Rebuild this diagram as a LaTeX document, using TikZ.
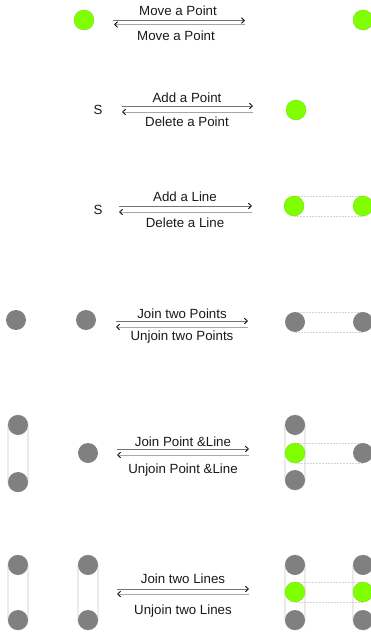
\documentclass[tikz,border=0pt]{standalone}
\usepackage{fontspec}
\setmainfont{Liberation Sans}
\usetikzlibrary{arrows.meta}
\definecolor{ptgreen}{RGB}{127,255,0}
\definecolor{ptgray}{RGB}{128,128,128}
\begin{document}
\begin{tikzpicture}[x=1pt,y=-1pt,
  gpt/.style={circle,fill=ptgreen,draw=ptgreen!85!black,line width=0.3pt,minimum size=20pt,inner sep=0pt},
  dpt/.style={circle,fill=ptgray,minimum size=20pt,inner sep=0pt},
  lbl/.style={font=\fontsize{13.3}{15}\selectfont,inner sep=0pt,text=black!90},
  fwd/.style={draw=black!55,line width=0.8pt,-{Straight Barb[black,length=3pt,width=5.5pt]}},
  bwd/.style={draw=black!35,line width=0.8pt,-{Straight Barb[black,length=3pt,width=5.5pt]}},
  pill/.style={draw=black!22,line width=0.6pt,rounded corners=10pt},
  link/.style={draw=black!17,line width=0.5pt,densely dotted}]
\useasboundingbox (0,0) rectangle (371,634);
% ---------- Row 1
\node[gpt] (r1a) at (84,20) {};
\node[gpt] (r1b) at (363,20) {};
\node[lbl] (r1t) at (178,11) {Move a Point};
\node[lbl] (r1u) at (176,36) {Move a Point};
\coordinate (r1f0) at (113,20.5); \coordinate (r1f1) at (245,20.5);
\coordinate (r1b0) at (245,24.5); \coordinate (r1b1) at (114,24.5);
\draw[fwd] (r1f0) -- (r1f1);
\draw[bwd] (r1b0) -- (r1b1);
% ---------- Row 2
\node[lbl] (r2s) at (98,110) {S};
\node[gpt] (r2b) at (296,110) {};
\node[lbl] (r2t) at (187,98) {Add a Point};
\node[lbl] (r2u) at (187,122) {Delete a Point};
\coordinate (r2f0) at (122,106); \coordinate (r2f1) at (253,106);
\coordinate (r2b0) at (253,112); \coordinate (r2b1) at (122,112);
\draw[fwd] (r2f0) -- (r2f1);
\draw[bwd] (r2b0) -- (r2b1);
% ---------- Row 3
\node[lbl] (r3s) at (98,210) {S};
\node[lbl] (r3t) at (185,197) {Add a Line};
\node[lbl] (r3u) at (185,223) {Delete a Line};
\coordinate (r3f0) at (119,206); \coordinate (r3f1) at (252,206);
\coordinate (r3b0) at (252,212); \coordinate (r3b1) at (119,212);
\draw[fwd] (r3f0) -- (r3f1);
\draw[bwd] (r3b0) -- (r3b1);
\draw[link] (294,196) rectangle (363,216);
\node[gpt] (r3a) at (294,206) {};
\node[gpt] (r3b) at (363,206) {};
% ---------- Row 4
\node[dpt] (r4a) at (16,320) {};
\node[dpt] (r4b) at (86,320) {};
\node[lbl] (r4t) at (182,314) {Join two Points};
\node[lbl] (r4u) at (182,337) {Unjoin two Points};
\coordinate (r4f0) at (116,321); \coordinate (r4f1) at (248,321);
\coordinate (r4b0) at (248,327); \coordinate (r4b1) at (116,327);
\draw[fwd] (r4f0) -- (r4f1);
\draw[bwd] (r4b0) -- (r4b1);
\draw[link] (295,312) rectangle (363,332);
\node[dpt] (r4c) at (295,322) {};
\node[dpt] (r4d) at (363,322) {};
% ---------- Row 5
\draw[pill] (8,415) rectangle (28,492);
\node[dpt] (r5a) at (18,425) {};
\node[dpt] (r5b) at (18,482) {};
\node[dpt] (r5c) at (88,453) {};
\node[lbl] (r5t) at (183,442) {Join Point \&Line};
\node[lbl] (r5u) at (183,470) {Unjoin Point \&Line};
\coordinate (r5f0) at (117,449); \coordinate (r5f1) at (249,449);
\coordinate (r5b0) at (249,455); \coordinate (r5b1) at (117,455);
\draw[fwd] (r5f0) -- (r5f1);
\draw[bwd] (r5b0) -- (r5b1);
\draw[pill] (285,415) rectangle (305,490);
\draw[link] (295,443) rectangle (363,463);
\node[dpt] (r5d) at (295,425) {};
\node[gpt] (r5e) at (295,453) {};
\node[dpt] (r5f) at (295,480) {};
\node[dpt] (r5g) at (363,453) {};
% ---------- Row 6
\draw[pill] (8,555) rectangle (28,630);
\draw[pill] (78,555) rectangle (98,630);
\node[dpt] (r6a) at (18,565) {};
\node[dpt] (r6b) at (18,620) {};
\node[dpt] (r6c) at (88,565) {};
\node[dpt] (r6d) at (88,620) {};
\node[lbl] (r6t) at (183,579) {Join two Lines};
\node[lbl] (r6u) at (183,611) {Unjoin two Lines};
\coordinate (r6f0) at (117,589); \coordinate (r6f1) at (249,589);
\coordinate (r6b0) at (249,594); \coordinate (r6b1) at (117,594);
\draw[fwd] (r6f0) -- (r6f1);
\draw[bwd] (r6b0) -- (r6b1);
\draw[pill] (285,555) rectangle (305,630);
\draw[pill] (353,555) rectangle (373,630);
\draw[link] (295,582) rectangle (363,602);
\node[dpt] (r6e) at (295,565) {};
\node[gpt] (r6f) at (295,592) {};
\node[dpt] (r6g) at (295,620) {};
\node[dpt] (r6h) at (363,565) {};
\node[gpt] (r6i) at (363,592) {};
\node[dpt] (r6j) at (363,620) {};
\end{tikzpicture}
\end{document}
